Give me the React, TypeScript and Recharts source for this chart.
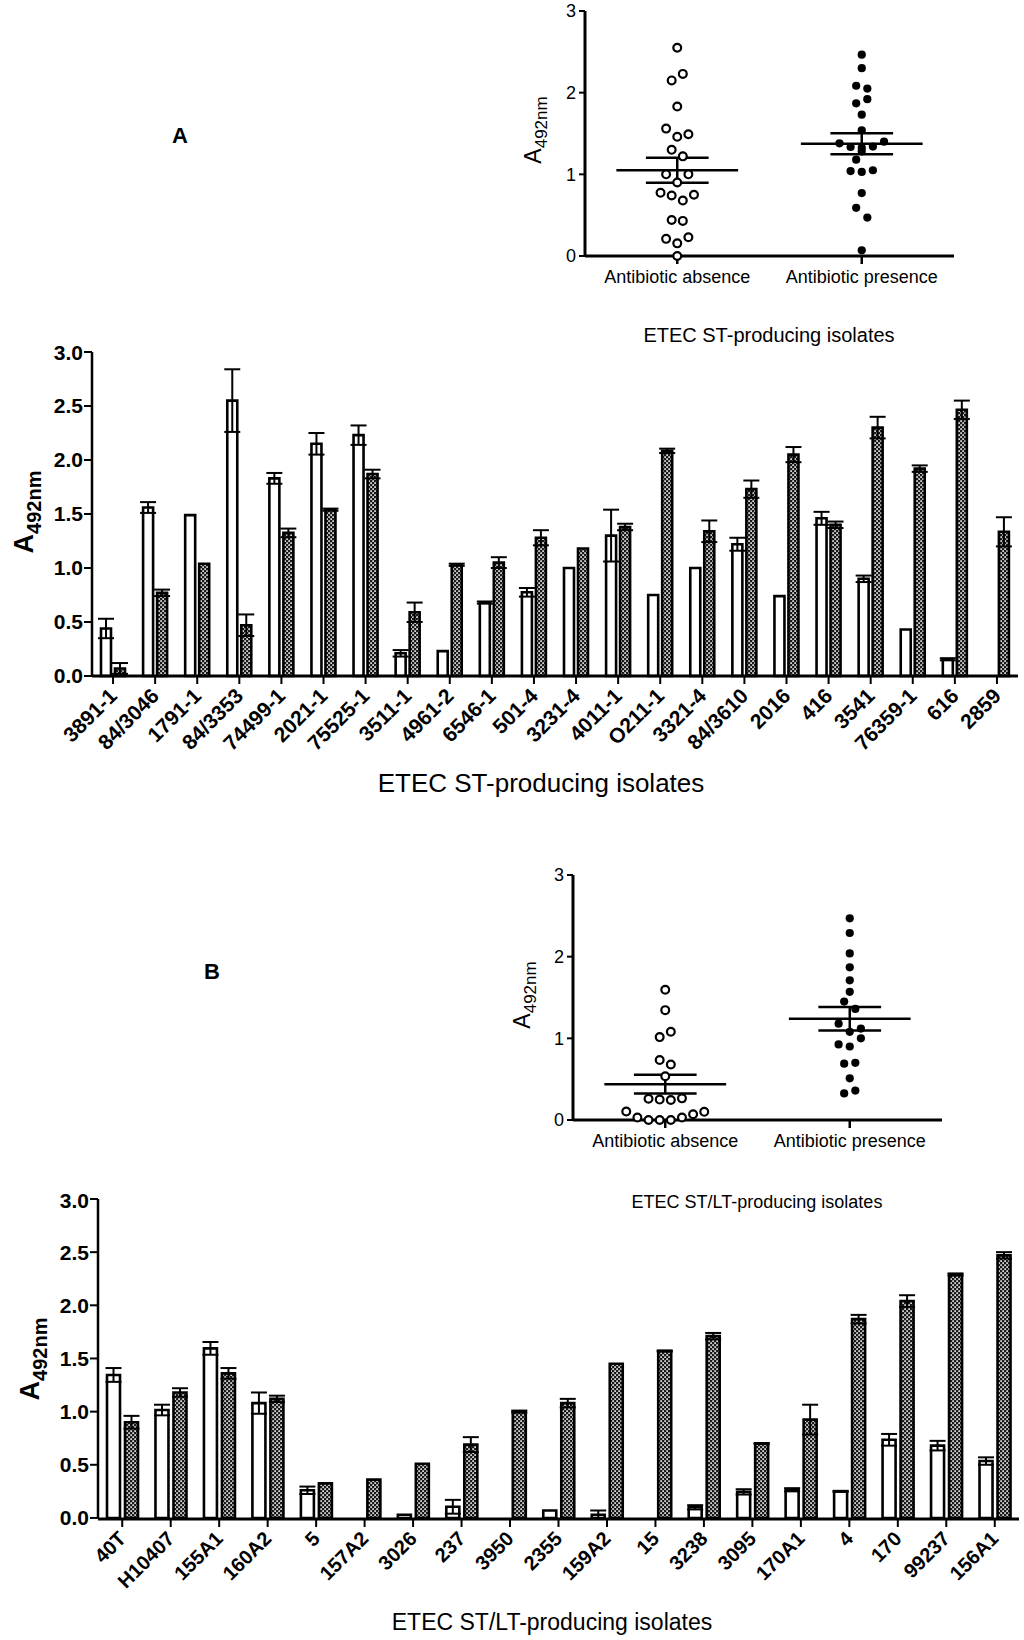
import React from 'react'
import {
  Bar,
  BarChart,
  ErrorBar,
  ReferenceLine,
  Scatter,
  ScatterChart,
  XAxis,
  YAxis,
} from 'recharts'

const FONT = '"Liberation Sans", Arial, sans-serif'

// ---- panel A: ETEC ST-producing isolates ----
const stIsolates = ['3891-1', '84/3046', '1791-1', '84/3353', '74499-1', '2021-1', '75525-1', '3511-1', '4961-2', '6546-1', '501-4', '3231-4', '4011-1', 'O211-1', '3321-4', '84/3610', '2016', '416', '3541', '76359-1', '616', '2859']
const stAbsence = [0.44, 1.56, 1.49, 2.55, 1.83, 2.15, 2.23, 0.21, 0.23, 0.68, 0.775, 1.0, 1.3, 0.75, 1.0, 1.22, 0.74, 1.46, 0.9, 0.43, 0.155, 0]
const stAbsenceErr = [0.09, 0.05, 0, 0.29, 0.05, 0.1, 0.09, 0.03, 0, 0.01, 0.04, 0, 0.24, 0, 0, 0.06, 0, 0.06, 0.03, 0, 0.01, 0]
const stPresence = [0.07, 0.77, 1.04, 0.47, 1.325, 1.54, 1.87, 0.59, 1.03, 1.05, 1.28, 1.18, 1.38, 2.085, 1.34, 1.73, 2.05, 1.4, 2.3, 1.92, 2.465, 1.335]
const stPresenceErr = [0.05, 0.03, 0, 0.1, 0.04, 0.01, 0.04, 0.09, 0.01, 0.05, 0.07, 0, 0.03, 0.02, 0.1, 0.08, 0.07, 0.03, 0.1, 0.03, 0.085, 0.135]
// column slot of each dot in the dot plot (beeswarm offset)
const stAbsenceSlot = [-1, -2, 2, 0, 0, -1, 1, -2, 2, 1, -3, -2, -1, 3, 2, 1, -1, 0, 0, 1, 0, 0]
const stPresenceSlot = [0, 0, -2, 1, 0, 0, -1, -1, 0, 2, 0, -1, -4, -1, 2, 0, 1, 4, 0, 1, 0, -2]

// ---- panel B: ETEC ST/LT-producing isolates ----
const stltIsolates = ['40T', 'H10407', '155A1', '160A2', '5', '157A2', '3026', '237', '3950', '2355', '159A2', '15', '3238', '3095', '170A1', '4', '170', '99237', '156A1']
const stltAbsence = [1.345, 1.015, 1.595, 1.08, 0.26, 0, 0.03, 0.105, 0, 0.07, 0.03, 0, 0.1, 0.245, 0.265, 0.25, 0.735, 0.68, 0.535]
const stltAbsenceErr = [0.065, 0.05, 0.06, 0.1, 0.035, 0, 0, 0.065, 0, 0, 0.04, 0, 0.02, 0.025, 0.015, 0.005, 0.055, 0.045, 0.035]
const stltPresence = [0.9, 1.18, 1.36, 1.12, 0.325, 0.36, 0.51, 0.69, 1.0, 1.08, 1.45, 1.57, 1.71, 0.7, 0.925, 1.87, 2.04, 2.29, 2.47]
const stltPresenceErr = [0.06, 0.04, 0.05, 0.03, 0, 0, 0, 0.07, 0.01, 0.04, 0, 0.005, 0.03, 0.005, 0.14, 0.04, 0.055, 0.01, 0.03]
const stltAbsenceSlot = [0, -1, 0, 1, -3, -3, -5, -7, -1, 5, 3, 1, 7, 1, 3, -1, -1, 1, 0]
const stltPresenceSlot = [0, -2, 1, 2, -1, 1, 0, -1, 2, 0, -1, 0, 0, 1, -2, 0, 0, 0, 0]

const barTicks = [0, 0.5, 1, 1.5, 2, 2.5, 3]
const dotTicks = [0, 1, 2, 3]
const groupLabels = ['Antibiotic absence', 'Antibiotic presence']

const SLOT = 0.0302

function toBarData(names: string[], abs: number[], absErr: number[], pre: number[], preErr: number[]) {
  return names.map((name, i) => ({ name, abs: abs[i], absErr: absErr[i], pre: pre[i], preErr: preErr[i] }))
}

function stats(v: number[]) {
  const n = v.length
  const m = v.reduce((a, b) => a + b, 0) / n
  const sd = Math.sqrt(v.reduce((a, b) => a + (b - m) * (b - m), 0) / (n - 1))
  return { m, sem: sd / Math.sqrt(n) }
}

function YLabel({ cx, cy, size, sub, bold }: { cx: number; cy: number; size: number; sub: number; bold?: boolean }) {
  return (
    <div
      style={{
        position: 'absolute',
        left: cx,
        top: cy,
        transform: 'translate(-50%,-50%) rotate(-90deg)',
        whiteSpace: 'nowrap',
        fontFamily: FONT,
        fontWeight: bold ? 'bold' : 'normal',
        fontSize: size,
        lineHeight: 1,
      }}
    >
      A<span style={{ fontSize: sub, position: 'relative', top: size * 0.28 }}>492nm</span>
    </div>
  )
}

function Text({ cx, cy, size, bold, children }: { cx: number; cy: number; size: number; bold?: boolean; children: React.ReactNode }) {
  return (
    <div
      style={{
        position: 'absolute',
        left: cx,
        top: cy,
        transform: 'translate(-50%,-50%)',
        whiteSpace: 'nowrap',
        fontFamily: FONT,
        fontWeight: bold ? 'bold' : 'normal',
        fontSize: size,
        lineHeight: 1,
      }}
    >
      {children}
    </div>
  )
}

function makeSlantTick(fontSize: number) {
  return function SlantTick({ x, y, payload }: any) {
    return (
      <g transform={`translate(${x},${y + 6})`}>
        <text
          x={0}
          y={0}
          dy="0.35em"
          textAnchor="end"
          transform="rotate(-45)"
          fontFamily={FONT}
          fontWeight="bold"
          fontSize={fontSize}
          fill="#000"
        >
          {payload.value}
        </text>
      </g>
    )
  }
}

const openDot = (p: any) => <circle cx={p.cx} cy={p.cy} r={3.9} fill="#fff" stroke="#000" strokeWidth={2.2} />
const fullDot = (p: any) => <circle cx={p.cx} cy={p.cy} r={4.1} fill="#000" />

function DotPlot({
  left,
  top,
  absence,
  presence,
  absSlot,
  preSlot,
}: {
  left: number
  top: number
  absence: number[]
  presence: number[]
  absSlot: number[]
  preSlot: number[]
}) {
  const absPts = absence.map((v, i) => ({ x: 0.5 + absSlot[i] * SLOT, y: v }))
  const prePts = presence.map((v, i) => ({ x: 1.5 + preSlot[i] * SLOT, y: v }))
  const groups = [
    { c: 0.5, ...stats(absence) },
    { c: 1.5, ...stats(presence) },
  ]
  const line = { stroke: '#000', strokeWidth: 2.5 }
  return (
    <div style={{ position: 'absolute', left, top }}>
      <ScatterChart width={470} height={300} margin={{ top: 11, right: 16, left: 0, bottom: 0 }}>
        <XAxis
          type="number"
          dataKey="x"
          domain={[0, 2]}
          ticks={[0.5, 1.5]}
          tickFormatter={(v: number) => (v < 1 ? groupLabels[0] : groupLabels[1])}
          height={44}
          tickSize={8}
          tickMargin={6}
          axisLine={{ stroke: '#000', strokeWidth: 3 }}
          tickLine={{ stroke: '#000', strokeWidth: 2.5 }}
          tick={{ fontSize: 18, fill: '#000', fontFamily: FONT }}
        />
        <YAxis
          type="number"
          dataKey="y"
          domain={[0, 3]}
          ticks={dotTicks}
          width={85}
          tickSize={6}
          tickMargin={3}
          axisLine={{ stroke: '#000', strokeWidth: 3 }}
          tickLine={{ stroke: '#000', strokeWidth: 2 }}
          tick={{ fontSize: 18, fill: '#000', fontFamily: FONT }}
        />
        <Scatter data={absPts} shape={openDot} isAnimationActive={false} />
        <Scatter data={prePts} shape={fullDot} isAnimationActive={false} />
        {groups.map((g) => (
          <React.Fragment key={g.c}>
            <ReferenceLine segment={[{ x: g.c - 0.33, y: g.m }, { x: g.c + 0.33, y: g.m }]} {...line} />
            <ReferenceLine segment={[{ x: g.c - 0.17, y: g.m + g.sem }, { x: g.c + 0.17, y: g.m + g.sem }]} {...line} />
            <ReferenceLine segment={[{ x: g.c - 0.17, y: g.m - g.sem }, { x: g.c + 0.17, y: g.m - g.sem }]} {...line} />
            <ReferenceLine segment={[{ x: g.c, y: g.m - g.sem }, { x: g.c, y: g.m + g.sem }]} {...line} />
          </React.Fragment>
        ))}
      </ScatterChart>
    </div>
  )
}

function PairedBars({
  top,
  height,
  data,
  yWidth,
  barSize,
  barGap,
  marginTop,
  marginRight,
  xHeight,
  tickFont,
  yFont,
}: {
  top: number
  height: number
  data: Record<string, string | number>[]
  yWidth: number
  barSize: number
  barGap: number
  marginTop: number
  marginRight: number
  xHeight: number
  tickFont: number
  yFont: number
}) {
  return (
    <div style={{ position: 'absolute', left: 0, top }}>
      <BarChart
        width={1024}
        height={height}
        data={data}
        margin={{ top: marginTop, right: marginRight, left: 0, bottom: 0 }}
        barGap={barGap}
      >
        <XAxis
          dataKey="name"
          interval={0}
          height={xHeight}
          tickSize={8}
          tickMargin={2}
          axisLine={{ stroke: '#000', strokeWidth: 3 }}
          tickLine={{ stroke: '#000', strokeWidth: 2 }}
          tick={makeSlantTick(tickFont)}
        />
        <YAxis
          domain={[0, 3]}
          ticks={barTicks}
          width={yWidth}
          tickSize={8}
          tickMargin={1}
          tickFormatter={(v: number) => v.toFixed(1)}
          axisLine={{ stroke: '#000', strokeWidth: 2.5 }}
          tickLine={{ stroke: '#000', strokeWidth: 2 }}
          tick={{ fontSize: yFont, fill: '#000', fontFamily: FONT, fontWeight: 'bold' }}
        />
        <Bar dataKey="abs" fill="#fff" stroke="#000" strokeWidth={2.6} barSize={barSize} isAnimationActive={false}>
          <ErrorBar dataKey="absErr" width={8} stroke="#000" strokeWidth={2} />
        </Bar>
        <Bar dataKey="pre" fill="url(#checker)" stroke="#000" strokeWidth={2.6} barSize={barSize} isAnimationActive={false}>
          <ErrorBar dataKey="preErr" width={8} stroke="#000" strokeWidth={2} />
        </Bar>
      </BarChart>
    </div>
  )
}

export default function App() {
  const stData = toBarData(stIsolates, stAbsence, stAbsenceErr, stPresence, stPresenceErr)
  const stltData = toBarData(stltIsolates, stltAbsence, stltAbsenceErr, stltPresence, stltPresenceErr)
  return (
    <div style={{ position: 'relative', width: 1024, height: 1640, background: '#fff', overflow: 'hidden' }}>
      <style>{'body{margin:0}'}</style>
      <svg width={0} height={0} style={{ position: 'absolute' }}>
        <defs>
          <pattern id="checker" width={4} height={4} patternUnits="userSpaceOnUse">
            <rect width={4} height={4} fill="#1a1a1a" />
            <rect x={0.3} y={0.3} width={1.6} height={1.6} fill="#fff" />
            <rect x={2.3} y={2.3} width={1.6} height={1.6} fill="#fff" />
          </pattern>
        </defs>
      </svg>

      {/* panel A */}
      <DotPlot left={500} top={0} absence={stAbsence} presence={stPresence} absSlot={stAbsenceSlot} preSlot={stPresenceSlot} />
      <YLabel cx={533} cy={130} size={23} sub={17} />
      <Text cx={180} cy={136} size={22} bold>A</Text>
      <Text cx={769} cy={335} size={20}>ETEC ST-producing isolates</Text>
      <PairedBars
        top={340}
        height={440}
        data={stData}
        yWidth={92}
        barSize={10}
        barGap={4}
        marginTop={12}
        marginRight={6}
        xHeight={104}
        tickFont={21}
        yFont={21}
      />
      <YLabel cx={24} cy={512} size={27} sub={20} bold />
      <Text cx={541} cy={783} size={26}>ETEC ST-producing isolates</Text>

      {/* panel B */}
      <DotPlot left={488} top={864} absence={stltAbsence} presence={stltPresence} absSlot={stltAbsenceSlot} preSlot={stltPresenceSlot} />
      <YLabel cx={522} cy={995} size={23} sub={17} />
      <Text cx={212} cy={972} size={22} bold>B</Text>
      <Text cx={757} cy={1202} size={18}>ETEC ST/LT-producing isolates</Text>
      <PairedBars
        top={1188}
        height={440}
        data={stltData}
        yWidth={98}
        barSize={13}
        barGap={5}
        marginTop={11}
        marginRight={5}
        xHeight={109}
        tickFont={20}
        yFont={21}
      />
      <YLabel cx={30} cy={1359} size={27} sub={20} bold />
      <Text cx={552} cy={1622} size={23}>ETEC ST/LT-producing isolates</Text>
    </div>
  )
}
